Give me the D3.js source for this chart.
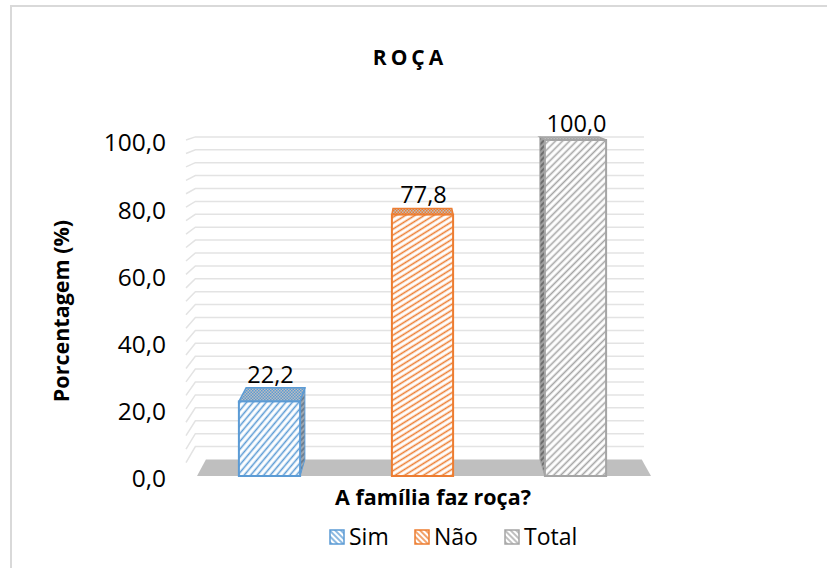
<!DOCTYPE html>
<html>
<head>
<meta charset="utf-8">
<script src="https://cdn.jsdelivr.net/npm/d3@7"></script>
<style>
  body { margin: 0; background: #fff; }
  text { font-family: "Open Sans", sans-serif; fill: #000; }
</style>
</head>
<body>
<div id="chart"></div>
<script>
// data
const categories = ["Sim", "Não", "Total"];
const values     = [22.2, 77.8, 100.0];
const yTicks     = [0, 20, 40, 60, 80, 100];
const titleText  = "ROÇA";
const xTitle     = "A família faz roça?";
const yTitle     = "Porcentagem (%)";

const COLORS = { "Sim": "#5b9bd5", "Não": "#ed7d31", "Total": "#a5a5a5" };
const SIDE   = { "Sim": "#6f7f90", "Não": "#a0603a", "Total": "#6e6e6e" };

const WIDTH = 827, HEIGHT = 568;
const VP = { x: 420, y: 62 };   // vanishing point of the fake 3d
const K  = 0.04;                // depth factor

const back = p => [p[0] + K * (VP.x - p[0]), p[1] + K * (VP.y - p[1])];

const svg = d3.select('#chart').append('svg')
  .attr('width', WIDTH)
  .attr('height', HEIGHT);

// chart border
svg.append('rect')
  .attr('x', 11).attr('y', 6)
  .attr('width', 840).attr('height', 600)
  .attr('fill', 'none')
  .attr('stroke', '#d9d9d9')
  .attr('stroke-width', 2);

const defs = svg.append('defs');

function hatch(id, bg, fg, angle, w, sw) {
  const p = defs.append('pattern')
    .attr('id', id)
    .attr('patternUnits', 'userSpaceOnUse')
    .attr('width', w).attr('height', w)
    .attr('patternTransform', 'rotate(' + angle + ')');
  p.append('rect').attr('width', w).attr('height', w).attr('fill', bg);
  p.append('line')
    .attr('x1', w / 2).attr('y1', 0).attr('x2', w / 2).attr('y2', w)
    .attr('stroke', fg).attr('stroke-width', sw);
}
function dots(id, bg, fg) {
  const p = defs.append('pattern')
    .attr('id', id)
    .attr('patternUnits', 'userSpaceOnUse')
    .attr('width', 3).attr('height', 3);
  p.append('rect').attr('width', 3).attr('height', 3).attr('fill', bg);
  p.append('rect').attr('width', 1.5).attr('height', 1.5).attr('fill', fg);
  p.append('rect').attr('x', 1.5).attr('y', 1.5).attr('width', 1.5).attr('height', 1.5).attr('fill', fg);
}

const angles = { "Sim": 40, "Não": 58, "Total": 45 };
categories.forEach((c, i) => {
  hatch('front' + i, '#fff', COLORS[c], angles[c], 5, 1.6);
  hatch('leg' + i, '#fff', COLORS[c], -45, 4, 1.4);
  hatch('side' + i, SIDE[c], '#d0d0d0', 45, 4, 1);
  dots('top' + i, '#bdbdbd', COLORS[c]);
});

const x = d3.scaleBand()
  .domain(categories)
  .range([193, 652])
  .paddingInner(0.6)
  .paddingOuter(0.3);

const y = d3.scaleLinear().domain([0, 100]).range([476, 140]);

// back wall + left wall gridlines (every 4)
const LEFT_FRONT = 186, RIGHT_BACK = 644;
const grid = svg.append('g');
d3.range(4, 101, 4).forEach(v => {
  const f = [LEFT_FRONT, y(v)];
  const b = back(f);
  grid.append('polyline')
    .attr('points', [f, b, [RIGHT_BACK, b[1]]].map(p => p.join(',')).join(' '))
    .attr('fill', 'none')
    .attr('stroke', '#e3e3e3')
    .attr('stroke-width', 1.5);
});

// floor
const fl = [197, y(0)], fr = [651, y(0)];
svg.append('polygon')
  .attr('points', [fl, fr, back(fr), back(fl)].map(p => p.join(',')).join(' '))
  .attr('fill', '#bfbfbf');

// bars
const bars = svg.append('g');
categories.forEach((c, i) => {
  const x0 = x(c), x1 = x(c) + x.bandwidth();
  const yt = y(values[i]), yb = y(0);
  const col = COLORS[c];
  const poly = pts => pts.map(p => p.join(',')).join(' ');

  if (x1 < VP.x - 20) {
    bars.append('polygon')
      .attr('points', poly([[x1, yt], back([x1, yt]), back([x1, yb]), [x1, yb]]))
      .attr('fill', 'url(#side' + i + ')')
      .attr('stroke', col).attr('stroke-width', 1);
  } else if (x0 > VP.x + 20) {
    bars.append('polygon')
      .attr('points', poly([[x0, yt], back([x0, yt]), back([x0, yb]), [x0, yb]]))
      .attr('fill', 'url(#side' + i + ')')
      .attr('stroke', col).attr('stroke-width', 1);
  }
  bars.append('polygon')
    .attr('points', poly([[x0, yt], [x1, yt], back([x1, yt]), back([x0, yt])]))
    .attr('fill', 'url(#top' + i + ')')
    .attr('stroke', col).attr('stroke-width', 1.5);
  bars.append('rect')
    .attr('x', x0).attr('y', yt)
    .attr('width', x1 - x0).attr('height', yb - yt)
    .attr('fill', 'url(#front' + i + ')')
    .attr('stroke', col).attr('stroke-width', 2);

  const topBack = back([x0, yt])[1];
  bars.append('text')
    .attr('x', (x0 + x1) / 2 + 1)
    .attr('y', topBack - 5)
    .attr('text-anchor', 'middle')
    .style('font-size', '23.5px')
    .text(values[i].toFixed(1).replace('.', ','));
});

// y axis labels
const yAxis = svg.append('g')
  .attr('transform', 'translate(166,3)')
  .call(d3.axisLeft(y)
    .tickValues(yTicks)
    .tickSize(0)
    .tickPadding(0)
    .tickFormat(d => d.toFixed(1).replace('.', ',')));
yAxis.select('.domain').remove();
yAxis.selectAll('text')
  .style('font-family', '"Open Sans", sans-serif')
  .style('font-size', '24.5px')
  .attr('fill', '#000');

// titles
svg.append('text')
  .attr('x', 410).attr('y', 65)
  .attr('text-anchor', 'middle')
  .style('font-size', '21px')
  .style('font-weight', 'bold')
  .style('letter-spacing', '4px')
  .text(titleText);

svg.append('text')
  .attr('x', 433).attr('y', 505)
  .attr('text-anchor', 'middle')
  .style('font-size', '21.5px')
  .style('font-weight', 'bold')
  .text(xTitle);

svg.append('text')
  .attr('transform', 'translate(69,311) rotate(-90)')
  .attr('text-anchor', 'middle')
  .style('font-size', '21.5px')
  .style('font-weight', 'bold')
  .text(yTitle);

// legend
const legX = { "Sim": 330, "Não": 415, "Total": 505 };
const legend = svg.append('g');
categories.forEach((c, i) => {
  legend.append('rect')
    .attr('x', legX[c]).attr('y', 530)
    .attr('width', 14).attr('height', 14)
    .attr('fill', 'url(#leg' + i + ')')
    .attr('stroke', COLORS[c]).attr('stroke-width', 1.5);
  legend.append('text')
    .attr('x', legX[c] + 19).attr('y', 545)
    .style('font-size', '23px')
    .text(c);
});
</script>
</body>
</html>
